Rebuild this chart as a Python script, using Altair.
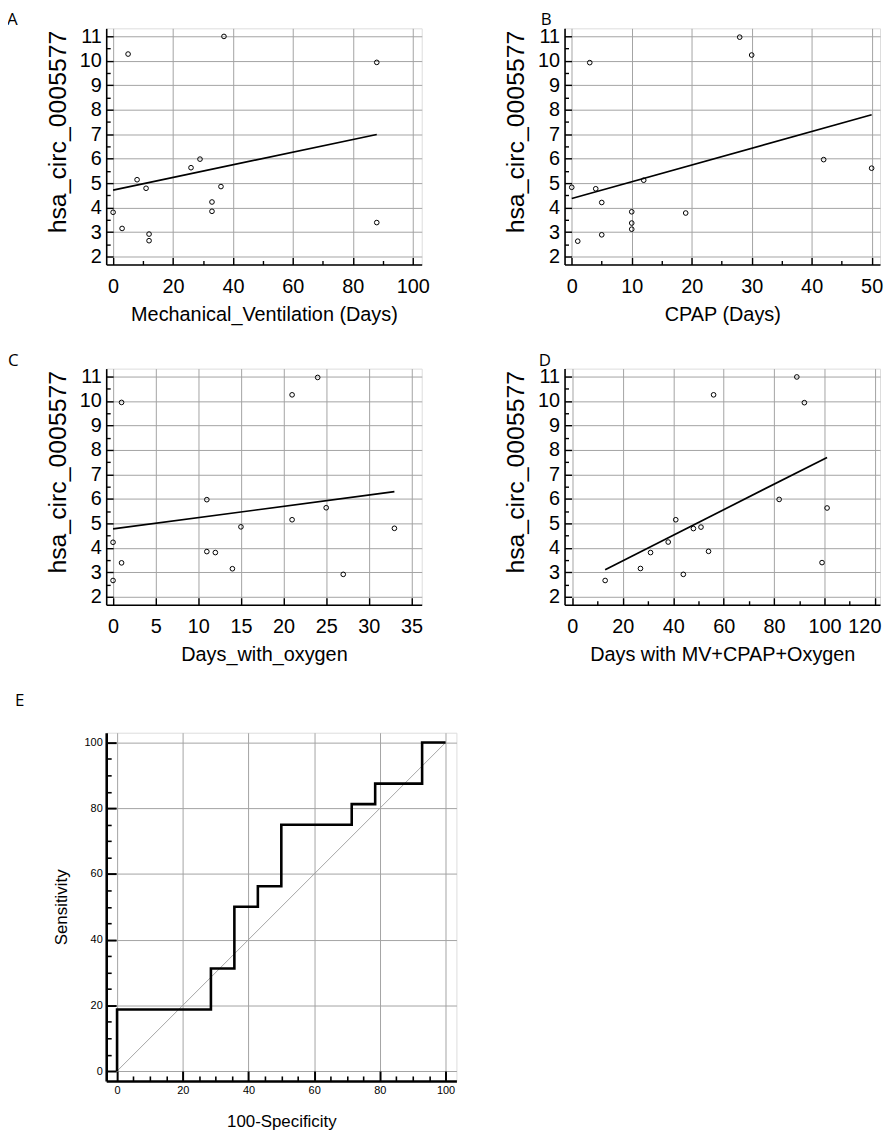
import altair as alt
import pandas as pd

# ---------------- data ----------------
a_x = [0, 5, 37, 88, 88, 8, 11, 3, 12, 12, 26, 29, 36, 33, 33]
a_y = [3.81, 10.27, 10.99, 9.93, 3.39, 5.14, 4.79, 3.15, 2.92, 2.65, 5.63, 5.98, 4.86, 4.23, 3.85]

b_x = [0, 1, 3, 4, 5, 5, 10, 10, 10, 12, 19, 28, 30, 42, 50]
b_y = [4.83, 2.63, 9.92, 4.77, 4.21, 2.89, 3.83, 3.37, 3.12, 5.12, 3.78, 10.96, 10.23, 5.96, 5.61]

c_x = [1, 0, 1, 0, 11, 11, 12, 14, 15, 21, 21, 24, 25, 27, 33]
c_y = [9.94, 4.23, 3.39, 2.67, 5.97, 3.85, 3.81, 3.15, 4.86, 10.25, 5.15, 10.96, 5.64, 2.92, 4.80]

d_x = [13, 27, 31, 38, 41, 44, 48, 51, 54, 56, 82, 89, 92, 99, 101]
d_y = [2.67, 3.16, 3.81, 4.24, 5.15, 2.92, 4.79, 4.85, 3.86, 10.25, 5.98, 10.98, 9.93, 3.40, 5.63]

roc_fpr = [0, 0, 28.57, 35.71, 42.86, 50, 71.43, 78.57, 92.86, 100]
roc_tpr = [0, 18.75, 31.25, 50, 56.25, 75, 81.25, 87.5, 100, 100]
diag = [0, 100]

y_title = "hsa_circ_0005577"

GRID = "#a3a3a3"
FONT = "Liberation Sans"
LETTER_FONT = "Open Sans"


def label_style(size, flush=None):
    style = dict(labelFont=FONT, labelFontSize=size, labelColor="black",
                 labelOverlap=False)
    if flush is None:
        style["labelFlush"] = False
    else:
        style["labelFlush"] = flush
        style["labelFlushOffset"] = 6
    return style


def main_axis(values, title, lsize, tsize, dwidth, lpad, tpad, flush=None, **kw):
    return alt.Axis(values=values, title=title, ticks=False, grid=True,
                    gridColor=GRID, gridWidth=1, domainColor="black",
                    domainWidth=dwidth, labelPadding=lpad,
                    titleFont=FONT, titleFontSize=tsize, titleFontWeight="normal",
                    titleColor="black", titlePadding=tpad,
                    **label_style(lsize, flush), **kw)


def tick_axis(values, size, orient, width=1.4):
    return alt.Axis(values=values, title=None, labels=False, domain=False,
                    grid=False, ticks=True, tickSize=size, tickWidth=width,
                    tickColor="black", offset=-size, orient=orient)


def scatter(letter, xs, ys, xtitle, xdom, xmaj, xmin, dx, flush=None):
    df = pd.DataFrame({"x": xs, "y": ys})
    xsc = alt.Scale(domain=xdom, nice=False, zero=False)
    ysc = alt.Scale(domain=[1.68, 11.32], nice=False, zero=False)
    ymaj = list(range(2, 12))
    ymin = [v + 0.5 for v in range(2, 11)]
    base = alt.Chart(df)
    pts = base.mark_point(shape="circle", filled=False, color="black",
                          size=22, strokeWidth=1, opacity=1).encode(
        x=alt.X("x:Q", scale=xsc,
                axis=main_axis(xmaj, xtitle, 20, 20, 1.6, 12, 8,
                               flush=flush, orient="bottom")),
        y=alt.Y("y:Q", scale=ysc,
                axis=main_axis(ymaj, y_title, 20, 25, 1.6, 5, 9, orient="left",
                               titleY=104)),
    )
    reg = base.transform_regression("x", "y").mark_line(
        color="black", strokeWidth=1.7).encode(
        x=alt.X("x:Q", scale=xsc, axis=tick_axis(xmaj, 7, "bottom")),
        y=alt.Y("y:Q", scale=ysc, axis=tick_axis(ymaj, 7, "left")),
    )
    minor = base.mark_point(opacity=0).encode(
        x=alt.X("x:Q", scale=xsc, axis=tick_axis(xmin, 4, "bottom")),
        y=alt.Y("y:Q", scale=ysc, axis=tick_axis(ymin, 4, "left")),
    )
    return alt.layer(pts, reg, minor).resolve_axis(
        x="independent", y="independent"
    ).properties(
        width=318, height=238,
        title=alt.Title(letter, anchor="start", frame="group", dx=dx,
                        offset=-3, font=LETTER_FONT, fontSize=17,
                        fontWeight="normal", color="black"),
    )


A = scatter("A", a_x, a_y, "Mechanical_Ventilation (Days)", [-2.3, 103],
            [0, 20, 40, 60, 80, 100], [10, 30, 50, 70, 90], -100)
B = scatter("B", b_x, b_y, "CPAP (Days)", [-1.2, 51.4],
            [0, 10, 20, 30, 40, 50], [5, 15, 25, 35, 45], -24)
C = scatter("C", c_x, c_y, "Days_with_oxygen", [-0.8, 36.2],
            [0, 5, 10, 15, 20, 25, 30, 35], [], -99)
D = scatter("D", d_x, d_y, "Days with MV+CPAP+Oxygen", [-3.1, 122],
            [0, 20, 40, 60, 80, 100, 120], [10, 30, 50, 70, 90, 110], -26,
            flush=6)

# ---------------- ROC panel ----------------
roc_df = pd.DataFrame({"fpr": roc_fpr, "tpr": roc_tpr,
                       "step": list(range(len(roc_fpr)))})
diag_df = pd.DataFrame({"fpr": diag, "tpr": diag})
exsc = alt.Scale(domain=[-3.3, 103.3], nice=False, zero=False)
eysc = alt.Scale(domain=[-3.0, 103.0], nice=False, zero=False)
emaj = [0, 20, 40, 60, 80, 100]
emin = [v for v in range(5, 100, 5) if v % 20 != 0]

e_diag = alt.Chart(diag_df).mark_line(color="#9a9a9a", strokeWidth=0.9).encode(
    x=alt.X("fpr:Q", scale=exsc,
            axis=main_axis(emaj, "100-Specificity", 11, 17, 2.6, 4, 18, orient="bottom")),
    y=alt.Y("tpr:Q", scale=eysc,
            axis=main_axis(emaj, "Sensitivity", 11, 17, 2.6, 4, 14, orient="left")),
)
e_roc = alt.Chart(roc_df).mark_line(color="black", strokeWidth=2.6,
                                    interpolate="step-after").encode(
    x=alt.X("fpr:Q", scale=exsc, axis=tick_axis(emaj, 10, "bottom", 2)),
    y=alt.Y("tpr:Q", scale=eysc, axis=tick_axis(emaj, 10, "left", 2)),
    order="step:Q",
)
e_min = alt.Chart(diag_df).mark_point(opacity=0).encode(
    x=alt.X("fpr:Q", scale=exsc, axis=tick_axis(emin, 5, "bottom", 1.6)),
    y=alt.Y("tpr:Q", scale=eysc, axis=tick_axis(emin, 5, "left", 1.6)),
)
E = alt.layer(e_diag, e_roc, e_min).resolve_axis(
    x="independent", y="independent"
).properties(
    width=353, height=351,
    title=alt.Title("E", anchor="start", frame="group", dx=-92, offset=23,
                    font=LETTER_FONT, fontSize=17, fontWeight="normal",
                    color="black"),
)

left = alt.vconcat(A, C, E, spacing=26)
right = alt.vconcat(B, D, spacing=26)

chart = alt.hconcat(left, right, spacing=46).properties(
    padding={"left": -2, "top": -2, "right": 0, "bottom": 0}
).configure_view(stroke=None).configure(background="white")

chart.save("out.html", embed_options={"renderer": "svg", "actions": False})
